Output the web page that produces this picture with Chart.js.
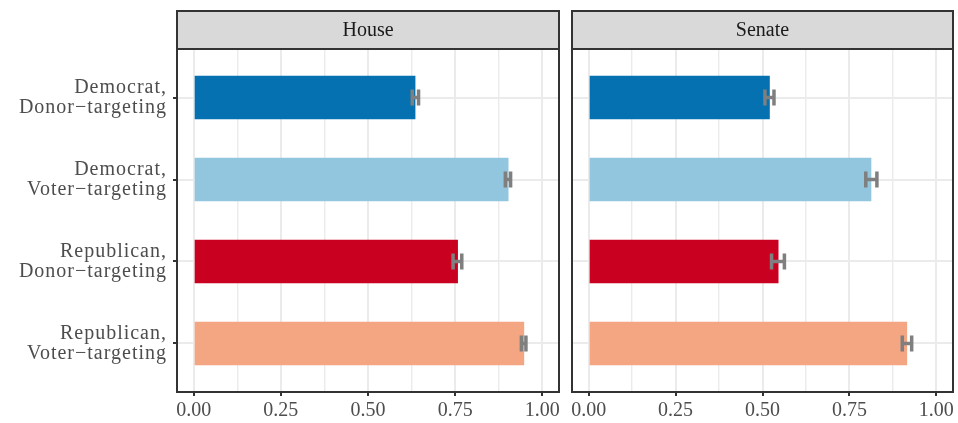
<!DOCTYPE html>
<html>
<head>
<meta charset="utf-8">
<script src="https://cdn.jsdelivr.net/npm/chart.js@4.4.1/dist/chart.umd.min.js"></script>
<style>
  html, body { margin: 0; padding: 0; background: #ffffff; }
  #wrap { position: relative; width: 958px; height: 423px; }
  #wrap div { position: absolute; left: 0; top: 0; width: 958px; height: 423px; }
</style>
</head>
<body>
<div id="wrap">
  <div><canvas id="house"></canvas></div>
  <div><canvas id="senate"></canvas></div>
</div>
<script>
// ---- data ----
const categories = [
  ["Democrat,", "Donor\u2212targeting"],
  ["Democrat,", "Voter\u2212targeting"],
  ["Republican,", "Donor\u2212targeting"],
  ["Republican,", "Voter\u2212targeting"]
];
const panels = ["House", "Senate"];
const houseValues = [0.636, 0.903, 0.758, 0.948];
const houseLower  = [0.627, 0.894, 0.744, 0.940];
const houseUpper  = [0.645, 0.909, 0.769, 0.953];
const senateValues = [0.521, 0.813, 0.546, 0.916];
const senateLower  = [0.507, 0.797, 0.526, 0.902];
const senateUpper  = [0.533, 0.829, 0.563, 0.929];
const barColors = ["#0571b0", "#92c5de", "#ca0020", "#f4a582"];
const xTickValues = [0, 0.25, 0.5, 0.75, 1];
const xTickLabels = ["0.00", "0.25", "0.50", "0.75", "1.00"];

// ---- styling ----
const FONT = "'Liberation Serif', 'DejaVu Serif', serif";
const FS = 20;
const GRID = "#ebebeb";
const DARK = "#333333";

const xGridValues = [];
xTickValues.forEach((v, i) => {
  xGridValues.push(v);
  if (i < xTickValues.length - 1) xGridValues.push((v + xTickValues[i + 1]) / 2);
});
xGridValues.sort((a, b) => a - b);
const isMajor = v => xTickValues.some(t => Math.abs(t - v) < 1e-9);

const errPlugin = {
  id: 'errbars',
  afterDatasetsDraw(chart, args, opts) {
    const ctx = chart.ctx, xs = chart.scales.x, ys = chart.scales.y;
    ctx.save();
    ctx.strokeStyle = '#7f7f7f';
    ctx.lineWidth = 3.5;
    ctx.lineCap = 'butt';
    opts.lower.forEach((lo, i) => {
      const hi = opts.upper[i];
      const y = ys.getPixelForValue(i);
      const x1 = xs.getPixelForValue(lo), x2 = xs.getPixelForValue(hi);
      const h = 8;
      ctx.beginPath();
      ctx.moveTo(x1, y); ctx.lineTo(x2, y);
      ctx.moveTo(x1, y - h); ctx.lineTo(x1, y + h);
      ctx.moveTo(x2, y - h); ctx.lineTo(x2, y + h);
      ctx.stroke();
    });
    ctx.restore();
    // y labels are drawn after the datasets (ticks.z = 1); widen them slightly
    if ('letterSpacing' in ctx) ctx.letterSpacing = '1px';
  }
};

const framePlugin = {
  id: 'frame',
  afterDraw(chart, args, opts) {
    const ctx = chart.ctx, a = chart.chartArea;
    if ('letterSpacing' in ctx) ctx.letterSpacing = '0px';
    const L = a.left - 1, R = a.right + 1, T = a.top - 1, B = a.bottom + 1;
    const sTop = 11;
    ctx.save();
    ctx.fillStyle = '#d9d9d9';
    ctx.fillRect(L, sTop, R - L, T - sTop);
    ctx.strokeStyle = DARK;
    ctx.lineWidth = 2;
    ctx.strokeRect(L, sTop, R - L, T - sTop);
    ctx.strokeRect(L, T, R - L, B - T);
    ctx.fillStyle = '#1a1a1a';
    ctx.font = FS + "px " + FONT;
    ctx.textAlign = 'center';
    ctx.textBaseline = 'middle';
    ctx.fillText(opts.title, (L + R) / 2, (sTop + T) / 2 + 1);
    ctx.restore();
  }
};

function makeChart(id, title, values, lower, upper, showY, yWidth, padRight) {
  return new Chart(document.getElementById(id), {
    type: 'bar',
    data: {
      datasets: [{
        data: values.map((v, i) => ({ x: v, y: i })),
        backgroundColor: barColors,
        borderWidth: 0,
        categoryPercentage: 1,
        barPercentage: 0.53
      }]
    },
    options: {
      indexAxis: 'y',
      responsive: true,
      maintainAspectRatio: false,
      devicePixelRatio: 1,
      animation: false,
      layout: { padding: { top: 50, right: padRight, left: 0, bottom: 0 } },
      plugins: {
        legend: { display: false },
        tooltip: { enabled: false },
        errbars: { lower: lower, upper: upper },
        frame: { title: title }
      },
      scales: {
        x: {
          type: 'linear',
          min: -0.045,
          max: 1.045,
          offset: false,
          border: { display: false },
          afterBuildTicks(scale) { scale.ticks = xGridValues.map(v => ({ value: v })); },
          afterFit(scale) { scale.height = 32; scale.paddingLeft = 0; scale.paddingRight = 0; },
          grid: {
            offset: false,
            color: GRID,
            lineWidth: c => (c.tick && isMajor(c.tick.value)) ? 2 : 1.4,
            tickColor: c => (c.tick && isMajor(c.tick.value)) ? DARK : 'rgba(0,0,0,0)',
            tickWidth: 2,
            tickLength: 5,
            drawTicks: true
          },
          ticks: {
            autoSkip: false,
            maxRotation: 0,
            padding: 3,
            color: '#4d4d4d',
            font: { family: FONT, size: FS },
            callback(v) {
              const k = xTickValues.findIndex(t => Math.abs(t - v) < 1e-9);
              return k >= 0 ? xTickLabels[k] : '';
            }
          }
        },
        y: {
          type: 'linear',
          reverse: true,
          min: -0.58,
          max: 3.58,
          offset: false,
          border: { display: false },
          afterBuildTicks(scale) { scale.ticks = categories.map((c, i) => ({ value: i })); },
          afterFit(scale) { scale.width = yWidth; scale.paddingTop = 0; scale.paddingBottom = 0; },
          grid: {
            offset: false,
            z: -1,
            color: GRID,
            lineWidth: 2,
            tickColor: DARK,
            tickWidth: 2,
            tickLength: 5,
            drawTicks: showY
          },
          ticks: {
            z: 1,
            display: showY,
            autoSkip: false,
            padding: 6,
            color: '#4d4d4d',
            font: { family: FONT, size: FS, lineHeight: 1.0 },
            callback(v) { return categories[v] || ''; }
          }
        }
      }
    },
    plugins: [errPlugin, framePlugin]
  });
}

makeChart('house', panels[0], houseValues, houseLower, houseUpper, true, 178, 400);
makeChart('senate', panels[1], senateValues, senateLower, senateUpper, false, 573, 6);
</script>
</body>
</html>
